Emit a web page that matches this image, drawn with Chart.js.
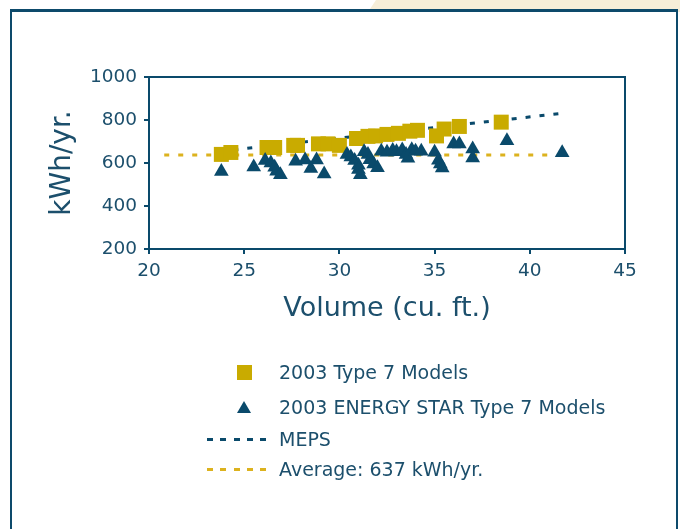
<!DOCTYPE html>
<html>
<head>
<meta charset="utf-8">
<script src="https://cdn.jsdelivr.net/npm/chart.js@4.4.1/dist/chart.umd.min.js"></script>
<style>
  body { margin: 0; background: #fff; width: 680px; height: 529px; overflow: hidden; position: relative; font-family: 'DejaVu Sans', sans-serif; }
  .tab { position: absolute; left: 368px; top: 0; width: 312px; height: 12px; background: #f6eed8; clip-path: polygon(8px 0, 100% 0, 100% 100%, 0 100%); }
  .frame { position: absolute; left: 10px; top: 9px; width: 664px; height: 600px; background: #fff;
           border-top: 3px solid #0d4a6b; border-left: 2px solid #0d4a6b; border-right: 2px solid #0d4a6b; }
  #chart { position: absolute; left: 0; top: 0; }
  .lg-text { position: absolute; left: 279px; font-size: 19px; line-height: 24px; color: #1c4f6c; white-space: nowrap; }
  .lg-square { position: absolute; left: 237px; width: 15px; height: 15px; }
  .lg-tri { position: absolute; left: 237px; width: 0; height: 0; border-left: 7.5px solid transparent; border-right: 7.5px solid transparent; }
  .lg-dash { position: absolute; left: 207px; width: 62px; height: 3px; }
</style>
</head>
<body>
<div class="tab"></div>
<div class="frame"></div>
<canvas id="chart" width="680" height="529"></canvas>
<div id="legend"></div>

<script>
// axis ticks
const xTicks = [20, 25, 30, 35, 40, 45];
const yTicks = [200, 400, 600, 800, 1000];

// 2003 Type 7 Models
const typeVolume = [23.8, 24.3, 26.2, 26.6, 27.6, 27.8, 28.9, 29.4, 30.0, 30.9, 31.5, 31.9, 32.5, 33.1, 33.7, 34.1, 35.1, 35.5, 36.3, 38.5];
const typeKwh    = [640, 649, 672, 672, 682, 682, 689, 689, 682, 714, 724, 726, 733, 738, 748, 752, 726, 758, 770, 790];

// 2003 ENERGY STAR Type 7 Models
const starVolume = [23.8, 25.5, 26.1, 26.4, 26.6, 26.7, 26.9, 27.7, 28.2, 28.5, 28.8, 29.2,
                    30.4, 30.6, 30.8, 31.0, 31.0, 31.1, 31.3, 31.5, 31.6, 31.8, 32.0, 32.2, 32.5, 32.8,
                    33.0, 33.3, 33.5, 33.6, 33.8, 34.0, 34.3, 35.0, 35.2, 35.3, 35.4, 36.0, 36.3, 37.0, 37.0, 38.8, 41.7];
const starKwh    = [560, 581, 612, 600, 580, 562, 545, 608, 614, 574, 614, 549,
                    640, 628, 612, 590, 570, 545, 652, 640, 615, 595, 578, 655, 650, 658,
                    652, 660, 640, 622, 662, 655, 655, 650, 613, 595, 577, 688, 688, 665, 623, 703, 648];

// MEPS line and average
const mepsVolume = [23.7, 41.6];
const mepsKwh    = [654, 830];
const avgVolume  = [20.8, 41.0];
const avgKwh     = [637, 637];

const labels = ['2003 Type 7 Models', '2003 ENERGY STAR Type 7 Models', 'MEPS', 'Average: 637 kWh/yr.'];

const yellow = '#c9ab00';
const teal = '#0a4a6b';
const avgColor = '#dcb21e';
const textColor = '#1c4f6c';
const font = 'DejaVu Sans';

function pts(xs, ys) { return xs.map((x, i) => ({ x: x, y: ys[i] })); }

// box round the plot area (top and right edges)
const plotBox = {
    id: 'plotBox',
    afterDraw(chart) {
        const a = chart.chartArea, ctx = chart.ctx;
        ctx.save();
        ctx.strokeStyle = teal;
        ctx.lineWidth = 2;
        ctx.beginPath();
        ctx.moveTo(a.left, a.top);
        ctx.lineTo(a.right, a.top);
        ctx.lineTo(a.right, a.bottom);
        ctx.stroke();
        ctx.restore();
    }
};

const chart = new Chart(document.getElementById('chart'), {
    type: 'scatter',
    data: {
        datasets: [
            {
                label: labels[1], data: pts(starVolume, starKwh), order: 0,
                pointStyle: 'triangle', pointRadius: 8.5, backgroundColor: teal, borderWidth: 0
            },
            {
                label: labels[0], data: pts(typeVolume, typeKwh), order: 1,
                pointStyle: 'rect', pointRadius: 10.6, backgroundColor: yellow, borderWidth: 0
            },
            {
                type: 'line', label: labels[2], data: pts(mepsVolume, mepsKwh), order: 2,
                borderColor: teal, borderWidth: 3, borderDash: [5, 9], pointRadius: 0, fill: false
            },
            {
                type: 'line', label: labels[3], data: pts(avgVolume, avgKwh), order: 3,
                borderColor: avgColor, borderWidth: 3, borderDash: [5, 9], pointRadius: 0, fill: false
            }
        ]
    },
    options: {
        responsive: false,
        animation: false,
        layout: { padding: { left: 46, top: 77, right: 55, bottom: 204 } },
        plugins: { legend: { display: false }, tooltip: { enabled: false } },
        scales: {
            x: {
                type: 'linear', min: 20, max: 45,
                afterBuildTicks: s => { s.ticks = xTicks.map(v => ({ value: v })); },
                afterFit: s => { s.height = 76; },
                grid: { drawOnChartArea: false, drawTicks: true, tickLength: 5, color: teal, lineWidth: 2 },
                border: { display: true, color: teal, width: 2 },
                ticks: { color: textColor, font: { family: font, size: 18.5 }, padding: 6, callback: v => String(v) },
                title: { display: true, text: 'Volume (cu. ft.)', color: textColor, padding: 0,
                         font: { family: font, size: 27 } }
            },
            y: {
                type: 'linear', min: 200, max: 1000,
                afterBuildTicks: s => { s.ticks = yTicks.map(v => ({ value: v })); },
                afterFit: s => { s.width = 103; },
                grid: { drawOnChartArea: false, drawTicks: true, tickLength: 5, color: teal, lineWidth: 2 },
                border: { display: true, color: teal, width: 2 },
                ticks: { color: textColor, font: { family: font, size: 18.5 }, padding: 7, callback: v => String(v) },
                title: { display: true, text: 'kWh/yr.', color: textColor, padding: 0,
                         font: { family: font, size: 28 } }
            }
        }
    },
    plugins: [plotBox]
});

// legend below the plot, built from the dataset labels
const legend = document.getElementById('legend');
const rows = [
    { y: 372, mark: 'square' },
    { y: 407, mark: 'tri' },
    { y: 439, mark: 'dash', color: teal },
    { y: 469, mark: 'dash', color: avgColor }
];
rows.forEach((r, i) => {
    let m = document.createElement('div');
    if (r.mark === 'square') {
        m.className = 'lg-square'; m.style.top = (r.y - 7.5) + 'px'; m.style.background = yellow;
    } else if (r.mark === 'tri') {
        m.className = 'lg-tri'; m.style.top = (r.y - 6) + 'px'; m.style.borderBottom = '12px solid ' + teal;
    } else {
        m.className = 'lg-dash'; m.style.top = (r.y - 1.5) + 'px';
        m.style.background = 'repeating-linear-gradient(to right, ' + r.color + ' 0 6px, transparent 6px 13.3px)';
    }
    legend.appendChild(m);
    const t = document.createElement('div');
    t.className = 'lg-text';
    t.style.top = (r.y - 12) + 'px';
    t.textContent = labels[i];
    legend.appendChild(t);
});
</script>
</body>
</html>
